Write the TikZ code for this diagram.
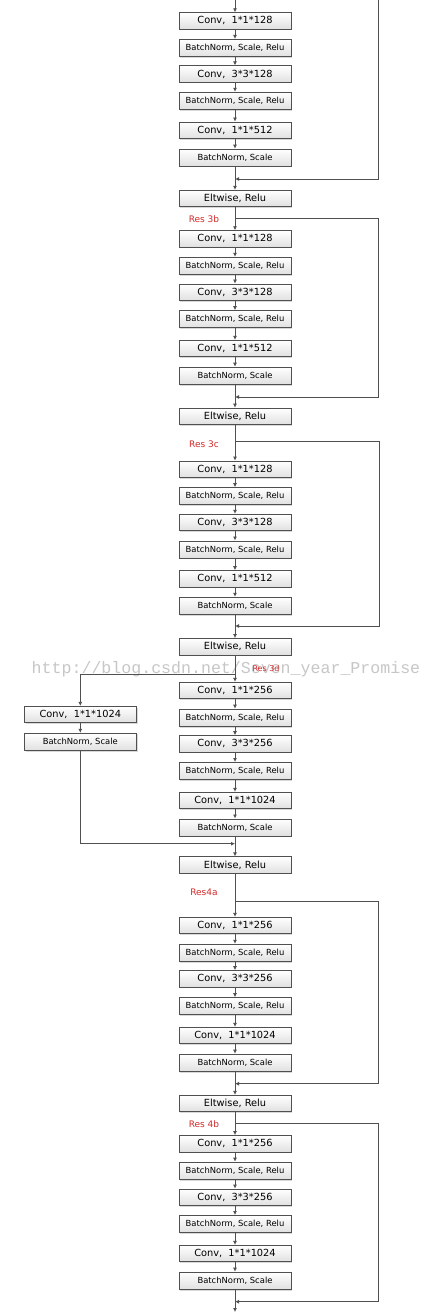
\documentclass[tikz,border=0pt]{standalone}
\usepackage{fontspec}
\setmainfont{DejaVu Sans}
\newfontfamily\wmfont{Liberation Mono}
\usetikzlibrary{shadows,arrows.meta}
\definecolor{lc}{HTML}{505050}
\definecolor{resred}{HTML}{D42A2A}
\tikzset{
 box/.style={draw=lc, line width=0.8pt, minimum width=112pt, inner sep=0pt,
   top color=white, bottom color=black!12,
   drop shadow={shadow xshift=1.2pt, shadow yshift=-1.2pt, fill=black!30, opacity=0.5}},
 conv/.style={box, minimum height=16.4pt, font=\fontsize{9.8}{10}\selectfont},
 bn/.style={box, minimum height=17.2pt, font=\fontsize{8.4}{10}\selectfont},
 wire/.style={draw=lc, line width=0.8pt},
 arr/.style={wire, -{Latex[length=4pt,width=4pt]}},
 res/.style={text=resred, font=\fontsize{9}{10}\selectfont, inner sep=0pt},
}
\begin{document}
\begin{tikzpicture}[x=1pt,y=-1pt]
\useasboundingbox (0,0) rectangle (434,1313);
\fill[white] (0,0) rectangle (434,1313);

% watermark
\node[anchor=base, text=black!22, font=\wmfont\fontsize{16.6}{18}\selectfont, inner sep=0pt] (wm) at (226,673) {http://blog.csdn.net/Seven\_year\_Promise};

% ---- section 3a tail
\node[conv] (a1) at (235,20.9) {Conv,\ \ 1*1*128};
\node[bn]   (a2) at (235,48) {BatchNorm, Scale, Relu};
\node[conv] (a3) at (235,74) {Conv,\ \ 3*3*128};
\node[bn]   (a4) at (235,100.8) {BatchNorm, Scale, Relu};
\node[conv] (a5) at (235,130.2) {Conv,\ \ 1*1*512};
\node[bn]   (a6) at (235,157.7) {BatchNorm, Scale};
\node[conv] (e1) at (235,198.5) {Eltwise, Relu};

% ---- Res 3b
\node[res] (r3b) at (204,219) {Res 3b};
\node[conv] (b1) at (235,238.9) {Conv,\ \ 1*1*128};
\node[bn]   (b2) at (235,265.8) {BatchNorm, Scale, Relu};
\node[conv] (b3) at (235,292.2) {Conv,\ \ 3*3*128};
\node[bn]   (b4) at (235,319.2) {BatchNorm, Scale, Relu};
\node[conv] (b5) at (235,348.5) {Conv,\ \ 1*1*512};
\node[bn]   (b6) at (235,375.7) {BatchNorm, Scale};
\node[conv] (e2) at (235,416.3) {Eltwise, Relu};

% ---- Res 3c
\node[res] (r3c) at (204,444.7) {Res 3c};
\node[conv] (c1) at (235,469.2) {Conv,\ \ 1*1*128};
\node[bn]   (c2) at (235,496.2) {BatchNorm, Scale, Relu};
\node[conv] (c3) at (235,522.5) {Conv,\ \ 3*3*128};
\node[bn]   (c4) at (235,549.5) {BatchNorm, Scale, Relu};
\node[conv] (c5) at (235,578.8) {Conv,\ \ 1*1*512};
\node[bn]   (c6) at (235,605.8) {BatchNorm, Scale};
\node[conv] (e3) at (235,646.7) {Eltwise, Relu};

% ---- Res 3d
\node[res, font=\fontsize{8}{9}\selectfont] (r3d) at (266,669) {Res 3d};
\node[conv] (d1) at (235,690.5) {Conv,\ \ 1*1*256};
\node[bn]   (d2) at (235,717.7) {BatchNorm, Scale, Relu};
\node[conv] (d3) at (235,743.8) {Conv,\ \ 3*3*256};
\node[bn]   (d4) at (235,771) {BatchNorm, Scale, Relu};
\node[conv] (d5) at (235,800.5) {Conv,\ \ 1*1*1024};
\node[bn]   (d6) at (235,827.5) {BatchNorm, Scale};
\node[conv] (l1) at (80.3,714.5) {Conv,\ \ 1*1*1024};
\node[bn]   (l2) at (80.3,741.8) {BatchNorm, Scale};
\node[conv] (e4) at (235,865) {Eltwise, Relu};

% ---- Res4a
\node[res] (r4a) at (204,892) {Res4a};
\node[conv] (f1) at (235,925.5) {Conv,\ \ 1*1*256};
\node[bn]   (f2) at (235,952.8) {BatchNorm, Scale, Relu};
\node[conv] (f3) at (235,978.8) {Conv,\ \ 3*3*256};
\node[bn]   (f4) at (235,1006.2) {BatchNorm, Scale, Relu};
\node[conv] (f5) at (235,1035.5) {Conv,\ \ 1*1*1024};
\node[bn]   (f6) at (235,1062.7) {BatchNorm, Scale};
\node[conv] (e5) at (235,1103.5) {Eltwise, Relu};

% ---- Res 4b
\node[res] (r4b) at (204,1124) {Res 4b};
\node[conv] (g1) at (235,1143.7) {Conv,\ \ 1*1*256};
\node[bn]   (g2) at (235,1170.7) {BatchNorm, Scale, Relu};
\node[conv] (g3) at (235,1197.2) {Conv,\ \ 3*3*256};
\node[bn]   (g4) at (235,1224) {BatchNorm, Scale, Relu};
\node[conv] (g5) at (235,1253.5) {Conv,\ \ 1*1*1024};
\node[bn]   (g6) at (235,1280.7) {BatchNorm, Scale};

% ---- main chain
\foreach \p/\q in {a1/a2,a2/a3,a3/a4,a4/a5,a5/a6,a6/e1,e1/b1,
  b1/b2,b2/b3,b3/b4,b4/b5,b5/b6,b6/e2,e2/c1,
  c1/c2,c2/c3,c3/c4,c4/c5,c5/c6,c6/e3,e3/d1,
  d1/d2,d2/d3,d3/d4,d4/d5,d5/d6,d6/e4,e4/f1,
  f1/f2,f2/f3,f3/f4,f4/f5,f5/f6,f6/e5,e5/g1,
  g1/g2,g2/g3,g3/g4,g4/g5,g5/g6,l1/l2}
  \draw[arr] (\p) -- (\q);

% top and bottom free ends
\coordinate (top) at (235,0);
\coordinate (bot) at (235,1312);
\draw[arr] (top) -- (a1);
\draw[arr] (g6) -- (bot);

% skip connections
\coordinate (t0r) at (378,0);
\coordinate (j1r) at (378,179);
\coordinate (j1) at (235,179);
\draw[arr] (t0r) -- (j1r) -- (j1);

\coordinate (s2) at (235,218.3);
\coordinate (s2r) at (378,218.3);
\coordinate (j2r) at (378,397);
\coordinate (j2) at (235,397);
\draw[arr] (s2) -- (s2r) -- (j2r) -- (j2);

\coordinate (s3) at (235,441.7);
\coordinate (s3r) at (379,441.7);
\coordinate (j3r) at (379,626);
\coordinate (j3) at (235,626);
\draw[arr] (s3) -- (s3r) -- (j3r) -- (j3);

\coordinate (s4) at (235,674.3);
\coordinate (s4l) at (80.3,674.3);
\draw[arr] (s4) -- (s4l) -- (l1);
\coordinate (j4l) at (80.3,843.7);
\coordinate (j4) at (235,843.7);
\draw[arr] (l2) -- (j4l) -- (j4);

\coordinate (s5) at (235,901.3);
\coordinate (s5r) at (378,901.3);
\coordinate (j5r) at (378,1083.7);
\coordinate (j5) at (235,1083.7);
\draw[arr] (s5) -- (s5r) -- (j5r) -- (j5);

\coordinate (s6) at (235,1123.3);
\coordinate (s6r) at (378,1123.3);
\coordinate (j6r) at (378,1301.7);
\coordinate (j6) at (235,1301.7);
\draw[arr] (s6) -- (s6r) -- (j6r) -- (j6);
\end{tikzpicture}
\end{document}
